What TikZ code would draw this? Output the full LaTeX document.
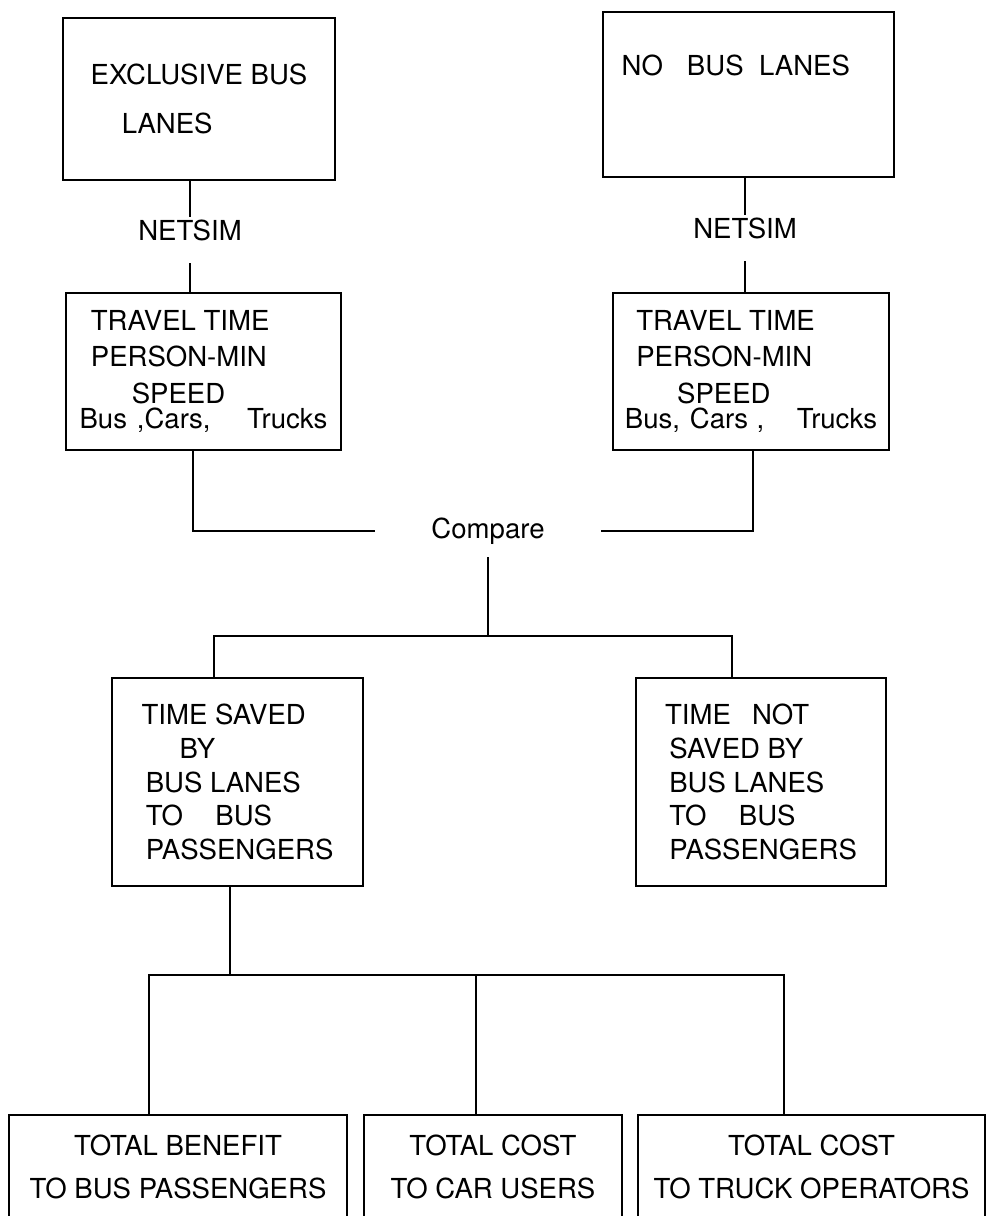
\documentclass[tikz,border=0pt]{standalone}
\usepackage{fontspec}
\setmainfont{TeX Gyre Heros}

\begin{document}
\begin{tikzpicture}[x=0.708pt,y=-0.708pt,
    font=\fontsize{19.5}{24}\selectfont,
    every node/.style={inner sep=0pt},
    box/.style={draw,line width=1.3pt,align=left},
    boxsize/.style 2 args={minimum width=#1*0.708pt,minimum height=#2*0.708pt},
    link/.style={line width=1.1pt},
    tool/.style={anchor=north,text depth=13.9pt,inner ysep=2pt}]
  \useasboundingbox (0,0) rectangle (987,1216);
  \clip (0,0) rectangle (987,1216);

  \node[box,boxsize={272}{162}] (b1) at (199,99) {EXCLUSIVE BUS\\[11pt]\hspace{22pt}LANES};
  \node[box,boxsize={291}{165},text depth=42pt] (b2) at (748.5,94.5) {NO\hspace{17pt}BUS\hspace{11pt}LANES\hspace*{18pt}};

  \node[tool] (n1) at (190,217) {NETSIM};
  \node[tool] (n2) at (745,215) {NETSIM};

  \node[box,boxsize={275}{157}] (t1) at (203.5,371.5)
    {\hspace{8pt}TRAVEL TIME\\[0.8pt]\hspace{8pt}PERSON-MIN\\[2.2pt]\hspace{37pt}SPEED\\[-6.3pt]Bus\hspace{7pt},Cars,\hspace{26pt}Trucks};
  \node[box,boxsize={276}{157}] (t2) at (751,371.5)
    {\hspace{8pt}TRAVEL TIME\\[0.8pt]\hspace{8pt}PERSON-MIN\\[2.2pt]\hspace{37pt}SPEED\\[-6.3pt]Bus,\hspace{7pt}Cars\hspace{6pt},\hspace{23pt}Trucks};

  \node[inner xsep=40pt,inner ysep=9pt] (cmp) at (488,531) {Compare};

  \node[box,boxsize={251}{208}] (s1) at (237.5,782)
    {TIME SAVED\\\hspace{27pt}BY\\\hspace{3pt}BUS LANES\\\hspace{3pt}TO\hspace{23pt}BUS\\\hspace{3pt}PASSENGERS};
  \node[box,boxsize={250}{208}] (s2) at (761,782)
    {TIME\hspace{15pt}NOT\\\hspace{3pt}SAVED BY\\\hspace{3pt}BUS LANES\\\hspace{3pt}TO\hspace{23pt}BUS\\\hspace{3pt}PASSENGERS};

  \node[box,align=center,boxsize={338}{104}] (c1) at (178,1167) {TOTAL BENEFIT\\[6.4pt]TO BUS PASSENGERS};
  \node[box,align=center,boxsize={258}{104}] (c2) at (493,1167) {TOTAL COST\\[6.4pt]TO CAR USERS};
  \node[box,align=center,boxsize={347}{104}] (c3) at (811.5,1167) {TOTAL COST\\[6.4pt]TO TRUCK OPERATORS};

  \coordinate (cl) at (193,531);
  \coordinate (cr) at (753,531);
  \coordinate (f1) at (488,636);
  \coordinate (f1l) at (214,636);
  \coordinate (f1r) at (732,636);
  \coordinate (f2) at (230,975);
  \coordinate (f2l) at (149,975);
  \coordinate (f2m) at (476,975);
  \coordinate (f2r) at (784,975);

  \draw[link] (b1.south -| n1) -- (n1.north);
  \draw[link] (n1.south) -- (n1.south |- t1.north);
  \draw[link] (b2.south -| n2) -- (n2.north);
  \draw[link] (n2.south) -- (n2.south |- t2.north);
  \draw[link] (t1.south -| cl) -- (cl) -- (cmp.west);
  \draw[link] (cmp.east) -- (cr) -- (t2.south -| cr);
  \draw[link] (cmp.south) -- (f1);
  \draw[link] (s1.north -| f1l) -- (f1l) -- (f1r) -- (s2.north -| f1r);
  \draw[link] (s1.south -| f2) -- (f2);
  \draw[link] (c1.north -| f2l) -- (f2l) -- (f2r) -- (c3.north -| f2r);
  \draw[link] (f2m) -- (c2.north -| f2m);
\end{tikzpicture}
\end{document}
